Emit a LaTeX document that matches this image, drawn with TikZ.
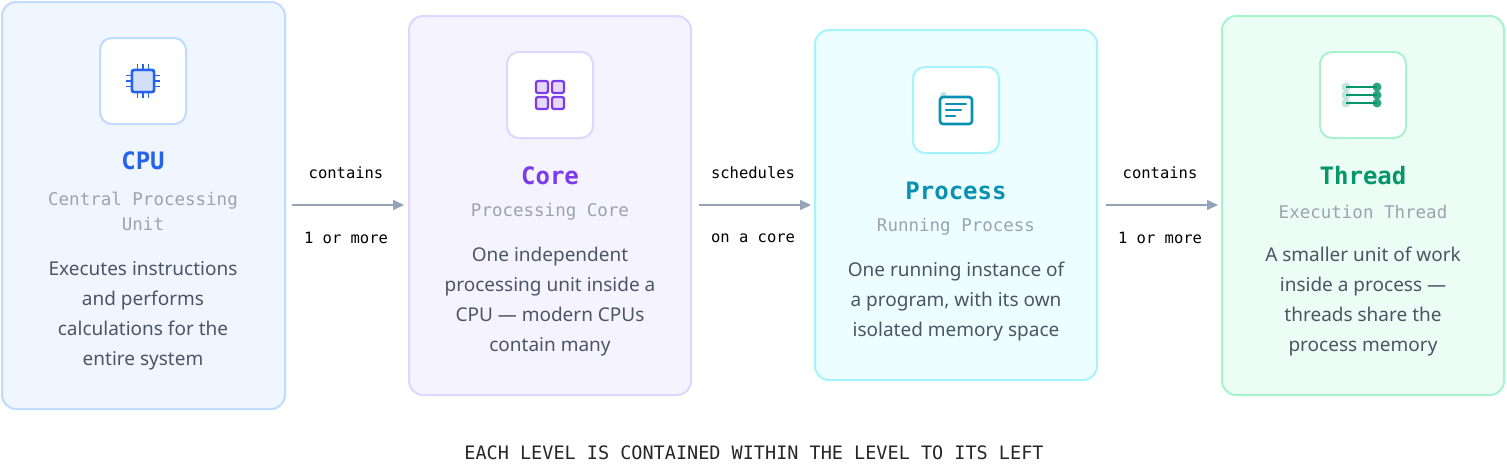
\documentclass[tikz,border=0pt]{standalone}
\usepackage{fontspec}
\setmainfont{Noto Sans}
\newfontfamily\monof{DejaVu Sans Mono}
\usetikzlibrary{arrows.meta}
\definecolor{txt}{HTML}{4B5563}
\definecolor{sub}{HTML}{9CA3AF}
\definecolor{arr}{HTML}{94A3B8}
\definecolor{cpuF}{HTML}{EFF6FF}\definecolor{cpuD}{HTML}{BFDBFE}\definecolor{cpuT}{HTML}{2563EB}
\definecolor{corF}{HTML}{F5F3FF}\definecolor{corD}{HTML}{DDD6FE}\definecolor{corT}{HTML}{7C3AED}
\definecolor{proF}{HTML}{ECFEFF}\definecolor{proD}{HTML}{A5F3FC}\definecolor{proT}{HTML}{0891B2}
\definecolor{thrF}{HTML}{ECFDF5}\definecolor{thrD}{HTML}{A7F3D0}\definecolor{thrT}{HTML}{059669}
\tikzset{
 card/.style={draw=#1D,fill=#1F,line width=2pt,rounded corners=14pt},
 ibox/.style={draw=#1D,fill=white,line width=2pt,rounded corners=12pt,minimum width=86pt,minimum height=86pt},
 ttl/.style={font=\monof\bfseries\fontsize{24}{26}\selectfont,text=#1T},
 subt/.style={font=\monof\fontsize{17.5}{25}\selectfont,text=sub,align=center},
 desc/.style={font=\fontsize{19}{30}\selectfont,text=txt,align=center},
 lbl/.style={font=\monof\fontsize{15.5}{16}\selectfont,text=black},
 conn/.style={draw=arr,line width=1.6pt,-{Triangle[length=11pt,width=10pt]}},
}
\begin{document}
\begin{tikzpicture}[x=1pt,y=-1pt]
\useasboundingbox (0,0) rectangle (1507,464);
% cards
\draw[card=cpu] (2,2) rectangle (285,409);
\draw[card=cor] (409,16) rectangle (691,395);
\draw[card=pro] (815,30) rectangle (1097,380);
\draw[card=thr] (1222,16) rectangle (1504,395);
\node (cpu) at (143,205) {};
\node (cor) at (550,205) {};
\node (pro) at (956,205) {};
\node (thr) at (1363,205) {};
% icon boxes
\node[ibox=cpu] (icpu) at (143,81) {};
\node[ibox=cor] (icor) at (550,95) {};
\node[ibox=pro] (ipro) at (956,110) {};
\node[ibox=thr] (ithr) at (1363,95) {};
% cpu icon
\begin{scope}[shift={(143,81)}]
\fill[cpuT!20] (-9,-9) rectangle (9,9);
\draw[cpuT,line width=2.8pt,rounded corners=2pt] (-11,-11) rectangle (11,11);
\foreach \t in {-5.5,0,5.5}{
 \draw[cpuT,line width=1.7pt] (\t,-11)--(\t,-17) (\t,11)--(\t,17) (-11,\t)--(-17,\t) (11,\t)--(17,\t);}
\end{scope}
% core icon
\begin{scope}[shift={(550,95)}]
\foreach \a/\b in {-1/-1,1/-1,-1/1,1/1}{
 \draw[corT,fill=corT!20,line width=2.2pt,rounded corners=2pt] (\a*8-6,\b*8-6) rectangle (\a*8+6,\b*8+6);}
\end{scope}
% process icon
\begin{scope}[shift={(956,110)}]
\fill[proT!25] (-12.5,-15) circle (3.2);
\draw[proT,line width=2.6pt,rounded corners=3pt] (-16,-13) rectangle (16,14);
\draw[proT,line width=2.2pt,line cap=round] (-10,-6)--(10,-6) (-10,0)--(5,0) (-10,6)--(-1,6);
\end{scope}
% thread icon
\begin{scope}[shift={(1363,95)}]
\foreach \y in {-8,0,8}{
 \fill[thrT!25] (-17,\y) circle (4.5);
 \fill[thrT!85] (14,\y) circle (4.5);
 \draw[thrT,line width=2.6pt] (-17,\y)--(14,\y);}
\end{scope}
% titles
\node[ttl=cpu] (tcpu) at (143,161) {CPU};
\node[ttl=cor] (tcor) at (550,176) {Core};
\node[ttl=pro] (tpro) at (956,191) {Process};
\node[ttl=thr] (tthr) at (1363,176) {Thread};
\node[subt] (scpu) at (143,211) {Central Processing\\Unit};
\node[subt] (scor) at (550,212) {Processing Core};
\node[subt] (spro) at (956,227) {Running Process};
\node[subt] (sthr) at (1363,212) {Execution Thread};
\node[desc] (dcpu) at (143,316) {Executes instructions\\and performs\\calculations for the\\entire system};
\node[desc] (dcor) at (550,302) {One independent\\processing unit inside a\\CPU — modern CPUs\\contain many};
\node[desc] (dpro) at (956,302) {One running instance of\\a program, with its own\\isolated memory space};
\node[desc] (dthr) at (1363,302) {A smaller unit of work\\inside a process —\\threads share the\\process memory};
% connectors
\coordinate (a1) at (292,205); \coordinate (b1) at (404,205);
\coordinate (a2) at (699,205); \coordinate (b2) at (811,205);
\coordinate (a3) at (1106,205); \coordinate (b3) at (1218,205);
\draw[conn] (a1)--(b1);
\draw[conn] (a2)--(b2);
\draw[conn] (a3)--(b3);
\node[lbl] (l1) at (346,173) {contains};
\node[lbl] (m1) at (346,238) {1 or more};
\node[lbl] (l2) at (753,173) {schedules};
\node[lbl] (m2) at (753,238) {on a core};
\node[lbl] (l3) at (1160,173) {contains};
\node[lbl] (m3) at (1160,238) {1 or more};
\node[font=\monof\fontsize{18.5}{20}\selectfont,text=black!85] (foot) at (754,453) {EACH LEVEL IS CONTAINED WITHIN THE LEVEL TO ITS LEFT};
\end{tikzpicture}
\end{document}
